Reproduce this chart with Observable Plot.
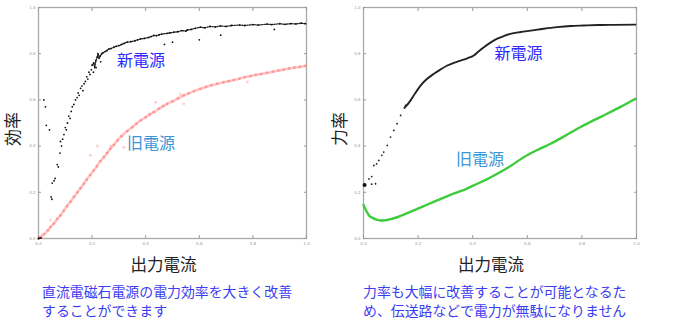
<!DOCTYPE html>
<html><head><meta charset="utf-8">
<script src="https://cdn.jsdelivr.net/npm/d3@7"></script>
<script src="https://cdn.jsdelivr.net/npm/@observablehq/plot@0.6"></script>
<style>
body{margin:0;background:#fff;}
#wrap{position:relative;width:684px;height:326px;overflow:hidden;background:#fff;font-family:"Noto Sans CJK JP",sans-serif;}
.panel{position:absolute;top:0;}
.cap{position:absolute;font-size:13.9px;line-height:19px;height:19px;color:#3c3cf0;white-space:nowrap;}
</style></head><body>
<div id="wrap">
<div class="panel" id="left" style="left:0px"></div>
<div class="panel" id="right" style="left:330px"></div>
</div>
<script>
// ---- data ----
const ticks = [0, 0.2, 0.4, 0.6, 0.8, 1.0];
const xTitle = "出力電流";
const yTitles = ["効率", "力率"];
const seriesNames = ["新電源", "旧電源"];
const leftLabelX = [0.382, 0.42], leftLabelY = [0.77, 0.41];
const rightLabelX = [0.568, 0.427], rightLabelY = [0.80, 0.342];
const captionLeft = ["直流電磁石電源の電力効率を大きく改善", "することができます"];
const captionRight = ["力率も大幅に改善することが可能となるた", "め、伝送路などで電力が無駄になりません"];

// left: efficiency, new power supply — main band (sorted by x)
const effNew = [[0,0],[0.005,0.002],[0.01,0.003],[0.051,0.24],[0.058,0.25],[0.062,0.26],[0.07,0.32],[0.074,0.31],[0.08,0.37],[0.082,0.42],[0.086,0.40],[0.09,0.43],[0.095,0.45],[0.10,0.48],[0.104,0.47],[0.108,0.50],[0.113,0.53],[0.118,0.52],[0.122,0.55],[0.126,0.57],[0.132,0.58],[0.138,0.60],[0.144,0.61],[0.148,0.63],[0.152,0.62],[0.157,0.65],[0.162,0.66],[0.166,0.64],[0.17,0.67],[0.175,0.68],[0.18,0.70],[0.184,0.69],[0.188,0.72],[0.192,0.71],[0.197,0.73],[0.2,0.75],[0.206,0.76],[0.21,0.74],[0.214,0.77],[0.219,0.785],[0.222,0.80],[0.226,0.78],[0.23,0.79],[0.236,0.80],[0.242,0.805],[0.25,0.81],[0.256,0.814],[0.262,0.82],[0.27,0.822],[0.281,0.828],[0.29,0.832],[0.3,0.835],[0.31,0.84],[0.32,0.845],[0.331,0.85],[0.345,0.852],[0.36,0.856],[0.37,0.86],[0.381,0.864],[0.395,0.866],[0.41,0.87],[0.42,0.874],[0.43,0.879],[0.44,0.878],[0.45,0.882],[0.46,0.885],[0.48,0.888],[0.49,0.89],[0.505,0.893],[0.52,0.895],[0.535,0.9],[0.55,0.898],[0.555,0.903],[0.57,0.905],[0.585,0.91],[0.604,0.915],[0.62,0.912],[0.64,0.918],[0.66,0.916],[0.679,0.92],[0.7,0.918],[0.72,0.922],[0.75,0.924],[0.77,0.922],[0.8,0.926],[0.82,0.924],[0.853,0.928],[0.87,0.926],[0.9,0.93],[0.92,0.927],[0.94,0.93],[0.96,0.929],[0.98,0.932],[0.996,0.93]];
// left: new power supply — stray points
const effNewStray = [[0.02,0.60],[0.026,0.57],[0.029,0.49],[0.041,0.47],[0.047,0.18],[0.05,0.17],[0.47,0.84],[0.5,0.85],[0.6,0.86],[0.68,0.88],[0.88,0.905],[0.215,0.74],[0.232,0.765],[0.205,0.72]];

// left: efficiency, old power supply — main curve
const effOld = [[0,0],[0.007,0.006],[0.02,0.018],[0.035,0.035],[0.045,0.05],[0.057,0.064],[0.07,0.085],[0.082,0.10],[0.094,0.12],[0.106,0.14],[0.12,0.16],[0.132,0.18],[0.145,0.20],[0.157,0.218],[0.169,0.237],[0.18,0.255],[0.193,0.275],[0.206,0.294],[0.218,0.313],[0.231,0.335],[0.244,0.352],[0.256,0.37],[0.268,0.388],[0.281,0.405],[0.295,0.425],[0.31,0.443],[0.331,0.465],[0.35,0.482],[0.365,0.497],[0.381,0.511],[0.4,0.525],[0.415,0.537],[0.43,0.547],[0.45,0.562],[0.465,0.573],[0.48,0.583],[0.5,0.594],[0.52,0.606],[0.542,0.619],[0.56,0.628],[0.58,0.638],[0.604,0.648],[0.625,0.656],[0.645,0.663],[0.667,0.67],[0.69,0.676],[0.71,0.681],[0.729,0.686],[0.75,0.692],[0.77,0.698],[0.791,0.703],[0.81,0.708],[0.83,0.712],[0.853,0.717],[0.875,0.722],[0.895,0.727],[0.915,0.731],[0.935,0.736],[0.955,0.74],[0.975,0.743],[0.995,0.747]];
const effOldStray = [[0.045,0.08],[0.194,0.36],[0.22,0.40],[0.27,0.40],[0.318,0.395],[0.437,0.59],[0.53,0.626],[0.542,0.583],[0.779,0.677]];

// right: power factor, new power supply
const pfNewDots = [[0.004,0.232],[0.02,0.258],[0.03,0.268],[0.03,0.235],[0.044,0.237],[0.038,0.316],[0.048,0.323],[0.056,0.338],[0.067,0.36],[0.074,0.374],[0.087,0.403],[0.099,0.439],[0.111,0.468],[0.123,0.497],[0.136,0.533],[0.154,0.576]];
const pfNewLine = [[0.15,0.565],[0.172,0.597],[0.19,0.63],[0.209,0.662],[0.23,0.688],[0.258,0.713],[0.28,0.73],[0.307,0.749],[0.33,0.76],[0.355,0.77],[0.38,0.78],[0.404,0.792],[0.42,0.808],[0.441,0.828],[0.465,0.848],[0.49,0.865],[0.515,0.877],[0.538,0.886],[0.575,0.894],[0.612,0.9],[0.66,0.908],[0.709,0.915],[0.76,0.92],[0.807,0.922],[0.86,0.924],[0.92,0.925],[0.996,0.926]];
// right: power factor, old power supply
const pfOld = [[0,0.145],[0.01,0.12],[0.02,0.1],[0.035,0.088],[0.05,0.081],[0.062,0.078],[0.08,0.079],[0.1,0.084],[0.123,0.092],[0.15,0.104],[0.175,0.117],[0.197,0.128],[0.23,0.145],[0.27,0.165],[0.31,0.185],[0.343,0.2],[0.375,0.214],[0.404,0.23],[0.45,0.255],[0.49,0.28],[0.54,0.315],[0.587,0.352],[0.635,0.382],[0.685,0.41],[0.735,0.442],[0.783,0.475],[0.84,0.51],[0.892,0.54],[0.945,0.572],[0.996,0.605]];

// ---- drawing ----
const fmt = d3.format(".1f");
const axisCol = "#999";
const newCol = "#2b2bff", oldCol = "#3a96d8";

function axes() {
  const common = {ticks, tickSize: -3, color: axisCol, fontSize: 4, label: null, fontFamily: "DejaVu Sans"};
  return [
    Plot.axisX({...common, anchor: "bottom", tickFormat: fmt, tickPadding: 7}),
    Plot.axisX({...common, anchor: "top", tickFormat: () => "", tickPadding: 7}),
    Plot.axisY({...common, anchor: "left", tickFormat: fmt, tickPadding: 6}),
    Plot.axisY({...common, anchor: "right", tickFormat: () => "", tickPadding: 6})
  ];
}

function panel(marginLeft, yTitle, yDx, labX, labY, dataMarks) {
  return Plot.plot({
    width: 330, height: 275,
    marginLeft, marginRight: 24, marginTop: 7, marginBottom: 37,
    x: {domain: [0, 1]}, y: {domain: [0, 1]},
    style: {fontFamily: "'Noto Sans CJK JP', sans-serif", background: "#fff", overflow: "visible"},
    marks: [
      Plot.frame({stroke: "#aaa", strokeWidth: 1.3}),
      ...axes(),
      ...dataMarks,
      Plot.text([seriesNames[0]], {x: () => labX[0], y: () => labY[0], fill: newCol, fontSize: 16}),
      Plot.text([seriesNames[1]], {x: () => labX[1], y: () => labY[1], fill: oldCol, fontSize: 16}),
      Plot.text([xTitle], {frameAnchor: "bottom", lineAnchor: "middle", textAnchor: "middle", dy: 27, dx: -9, fontSize: 16.5, fill: "#222"}),
      Plot.text([yTitle], {frameAnchor: "left", lineAnchor: "middle", textAnchor: "middle", dx: yDx, dy: 6, rotate: -90, fontSize: 17, fill: "#222"})
    ]
  });
}

document.getElementById("left").append(panel(38, yTitles[0], -25, leftLabelX, leftLabelY, [
  Plot.line(effOld, {x: "0", y: "1", stroke: "#ff7a7a", strokeOpacity: 0.45, strokeWidth: 2.6, curve: "monotone-x"}),
  Plot.dot(effOld, {x: "0", y: "1", r: 1.4, fill: "#ff6b6b", fillOpacity: 0.5, stroke: "none"}),
  Plot.dot(effOldStray, {x: "0", y: "1", r: 1.5, fill: "#ff8080", fillOpacity: 0.35, stroke: "none"}),
  Plot.line(effNew.filter(d => d[0] >= 0.2), {x: "0", y: "1", stroke: "#222", strokeWidth: 1.3, strokeDasharray: "1.2 1.3"}),
  Plot.dot(effNew, {x: "0", y: "1", r: 0.9, fill: "#111", stroke: "none"}),
  Plot.dot(effNewStray, {x: "0", y: "1", r: 0.9, fill: "#111", stroke: "none"})
]));

document.getElementById("right").append(panel(33, yTitles[1], -23, rightLabelX, rightLabelY, [
  Plot.line(pfOld, {x: "0", y: "1", stroke: "#3ccc3c", strokeWidth: 2.4, curve: "monotone-x"}),
  Plot.line(pfNewLine, {x: "0", y: "1", stroke: "#222", strokeWidth: 1.9, curve: "monotone-x"}),
  Plot.dot(pfNewDots, {x: "0", y: "1", r: 0.9, fill: "#222", stroke: "none"}),
  Plot.dot(pfNewDots.slice(0, 1), {x: "0", y: "1", r: 2, fill: "#111", stroke: "none"})
]));

const wrap = document.getElementById("wrap");
function caption(lines, left) {
  lines.forEach((t, i) => {
    const d = document.createElement("div");
    d.className = "cap";
    d.style.left = left + "px";
    d.style.top = (282 + i * 19) + "px";
    d.textContent = t;
    wrap.append(d);
  });
}
caption(captionLeft, 42);
caption(captionRight, 363);
</script>
</body></html>
